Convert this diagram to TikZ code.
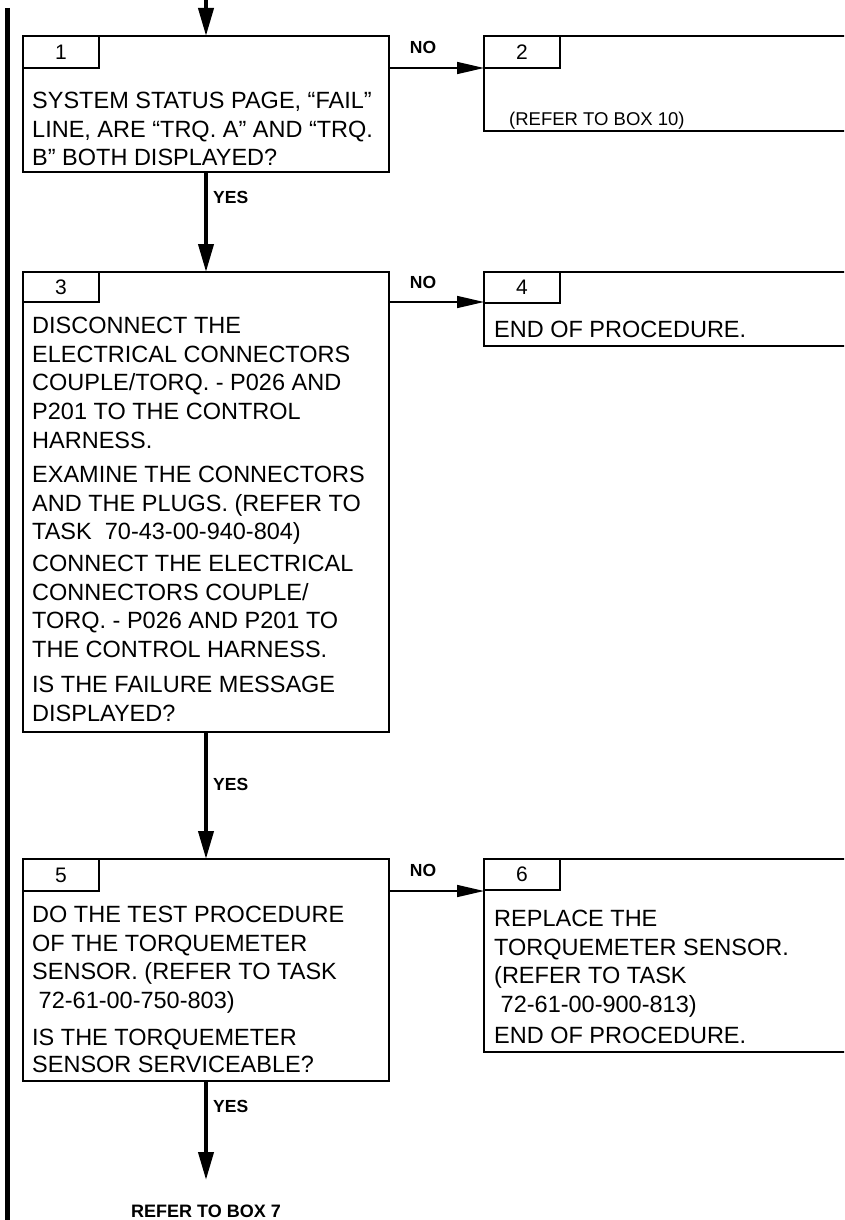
\documentclass[tikz,border=0pt]{standalone}
\usepackage{fontspec}
\setmainfont{Liberation Sans}
\usetikzlibrary{arrows.meta}
\newcommand\myBody{\fontsize{23.5}{28.8}\selectfont}
\newcommand\myLab{\fontsize{17.5}{20}\selectfont\bfseries}
\newcommand\myRef{\fontsize{18.5}{22}\selectfont}
\newcommand\myNum{\fontsize{21}{24}\selectfont}
\newcommand\fl{\rule{0pt}{20pt}}
\begin{document}
\begin{tikzpicture}[x=1pt,y=-1pt,
  box/.style={draw,line width=2pt,anchor=north west,inner sep=0pt,outer sep=0pt},
  tabbox/.style={draw,line width=2pt,anchor=north west,inner sep=0pt,outer sep=0pt,minimum width=76pt,font=\myNum},
  txt/.style={anchor=north west,align=left,inner sep=0pt,font=\myBody},
  lab/.style={inner sep=0pt,font=\myLab},
  yesarrow/.style={line width=4pt,-{Triangle[length=28pt,width=15pt]}},
  noarrow/.style={line width=1.6pt,-{Triangle[length=27pt,width=12pt]}}
]
\clip (0,0) rectangle (844,1220);
\fill[white] (0,0) rectangle (844,1220);

% left margin bar
\draw[line width=5pt] (7,8) -- (7,1225);

% boxes
\node[box,minimum width=366pt,minimum height=136pt] (b1) at (23,36) {};
\node[box,minimum width=370pt,minimum height=95pt] (b2) at (484,36) {};
\node[box,minimum width=366pt,minimum height=460pt] (b3) at (23,272) {};
\node[box,minimum width=370pt,minimum height=74pt] (b4) at (484,272) {};
\node[box,minimum width=366pt,minimum height=222pt] (b5) at (23,859) {};
\node[box,minimum width=370pt,minimum height=193pt] (b6) at (484,859) {};

% number tabs
\node[tabbox,minimum height=32pt] (t1) at (23,36) {1};
\node[tabbox,minimum height=32pt] (t2) at (484,36) {2};
\node[tabbox,minimum height=30pt] (t3) at (23,272) {3};
\node[tabbox,minimum height=31pt] (t4) at (484,272) {4};
\node[tabbox,minimum height=32pt] (t5) at (23,859) {5};
\node[tabbox,minimum height=31pt] (t6) at (484,859) {6};

% box texts
\node[txt] (x1) at (32,88) {\fl SYSTEM STATUS PAGE, “FAIL”\\LINE, ARE “TRQ. A” AND “TRQ.\\B” BOTH DISPLAYED?};
\node[anchor=base west,inner sep=0pt,font=\myRef] (x2) at (509,126) {(REFER TO BOX 10)};
\node[txt] (x3a) at (32,313) {\fl DISCONNECT THE\\ELECTRICAL CONNECTORS\\COUPLE/TORQ. - P026 AND\\P201 TO THE CONTROL\\HARNESS.};
\node[txt] (x3b) at (32,462) {\fl EXAMINE THE CONNECTORS\\AND THE PLUGS. (REFER TO\\TASK\ \ 70-43-00-940-804)};
\node[txt] (x3c) at (32,551) {\fl CONNECT THE ELECTRICAL\\CONNECTORS COUPLE/\\TORQ. - P026 AND P201 TO\\THE CONTROL HARNESS.};
\node[txt] (x3d) at (32,672) {\fl IS THE FAILURE MESSAGE\\DISPLAYED?};
\node[anchor=base west,inner sep=0pt,font=\myBody] (x4) at (494,337) {END OF PROCEDURE.};
\node[txt] (x5a) at (32,902) {\fl DO THE TEST PROCEDURE\\OF THE TORQUEMETER\\SENSOR. (REFER TO TASK\\\ 72-61-00-750-803)};
\node[txt,font=\fontsize{23.5}{27}\selectfont] (x5b) at (32,1025) {\fl IS THE TORQUEMETER\\SENSOR SERVICEABLE?};
\node[txt] (x6a) at (494,906) {\fl REPLACE THE\\TORQUEMETER SENSOR.\\(REFER TO TASK\\\ 72-61-00-900-813)};
\node[anchor=base west,inner sep=0pt,font=\myBody] (x6b) at (494,1043) {END OF PROCEDURE.};

% connectors
\coordinate (start) at (206,0);
\coordinate (fin) at (206,1180);
\draw[yesarrow] (start) -- (b1.north);
\draw[yesarrow] (b1.south) -- (b3.north);
\draw[yesarrow] (b3.south) -- (b5.north);
\draw[yesarrow] (b5.south) -- (fin);
\draw[noarrow] (b1.east |- t1.south) -- (b2.west |- t1.south);
\draw[noarrow] (b3.east |- t3.south) -- (b4.west |- t3.south);
\draw[noarrow] (b5.east |- t5.south) -- (b6.west |- t5.south);

% connector labels
\node[lab,anchor=west] (y1) at (213,197) {YES};
\node[lab,anchor=west] (y2) at (213,784) {YES};
\node[lab,anchor=west] (y3) at (213,1106) {YES};
\node[lab] (n1) at (423,47) {NO};
\node[lab] (n2) at (423,282) {NO};
\node[lab] (n3) at (423,870) {NO};
\node[lab,font=\fontsize{18}{20}\selectfont\bfseries] (r7) at (206,1211) {REFER TO BOX 7};
\end{tikzpicture}
\end{document}
